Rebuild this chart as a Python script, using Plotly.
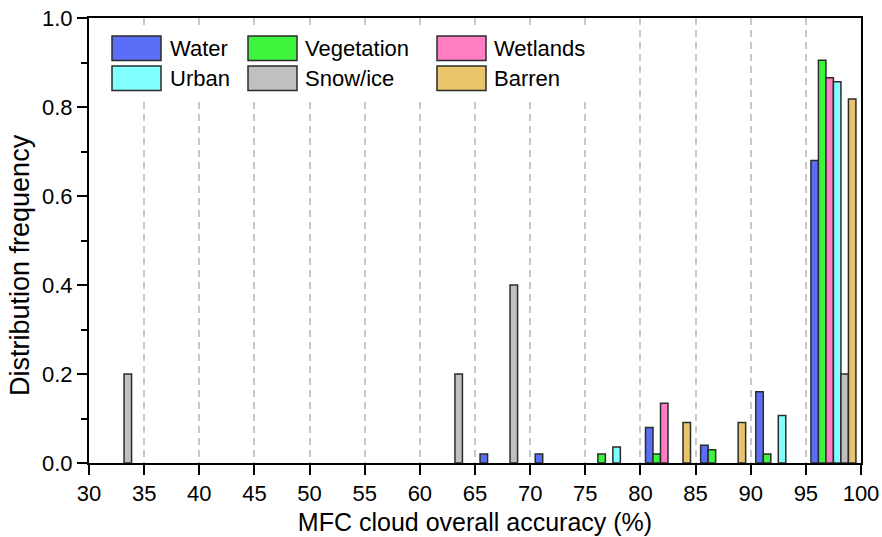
import plotly.graph_objects as go

# ---- data ----
bin_lower = [30, 35, 40, 45, 50, 55, 60, 65, 70, 75, 80, 85, 90, 95]
series_names = ["Water", "Vegetation", "Wetlands", "Urban", "Snow/ice", "Barren"]
water      = [None, None, None, None, None, None, None, 0.02, 0.02, None, 0.08, 0.04, 0.16, 0.68]
vegetation = [None, None, None, None, None, None, None, None, None, 0.02, 0.02, 0.03, 0.02, 0.905]
wetlands   = [None, None, None, None, None, None, None, None, None, None, 0.134, None, None, 0.866]
urban      = [None, None, None, None, None, None, None, None, None, 0.036, None, None, 0.107, 0.857]
snow_ice   = [0.2, None, None, None, None, None, 0.2, 0.4, None, None, None, None, None, 0.2]
barren     = [None, None, None, None, None, None, None, None, None, None, 0.091, 0.091, None, 0.818]
series_values = [water, vegetation, wetlands, urban, snow_ice, barren]
series_colors = ["#5B6EF8", "#3DF53D", "#FF7DC3", "#80FFFF", "#C0C0C0", "#E9C46A"]
x_ticks = list(range(30, 101, 5))
y_ticks = [0.0, 0.2, 0.4, 0.6, 0.8, 1.0]

FONT = "Arial, Liberation Sans, sans-serif"
EDGE = "#2b2b2b"

bin_centers = [b + 2.5 for b in bin_lower]

fig = go.Figure()
for name, vals, col in zip(series_names, series_values, series_colors):
    fig.add_trace(go.Bar(
        x=bin_centers, y=vals, name=name,
        marker=dict(color=col, line=dict(color=EDGE, width=1.5)),
        showlegend=False,
    ))

# plot area in pixels (for legend placement)
W, H = 882, 537
ML, MR, MT, MB = 89, 21, 18, 74
PW, PH = W - ML - MR, H - MT - MB

def px2x(px):
    return (px - ML) / PW

def py2y(py):
    return (H - MB - py) / PH

shapes = []
annotations = []
# legend background
shapes.append(dict(type="rect", xref="paper", yref="paper",
                   x0=px2x(100), x1=px2x(625), y0=py2y(97), y1=py2y(26),
                   fillcolor="white", line=dict(width=0), layer="above"))
col_x = [112, 248, 437]
text_x = [168, 303, 492]
row_y = [36, 66]
sw_w, sw_h = 49, 24.5
for i, (name, col) in enumerate(zip(series_names, series_colors)):
    r, c = divmod(i, 3)
    shapes.append(dict(type="rect", xref="paper", yref="paper",
                       x0=px2x(col_x[c]), x1=px2x(col_x[c] + sw_w),
                       y0=py2y(row_y[r] + sw_h), y1=py2y(row_y[r]),
                       fillcolor=col, line=dict(color=EDGE, width=1.5), layer="above"))
    annotations.append(dict(xref="paper", yref="paper", x=px2x(text_x[c]),
                            y=py2y(row_y[r] + sw_h / 2), text=name, showarrow=False,
                            xanchor="left", yanchor="middle",
                            font=dict(family=FONT, size=22, color="black")))

# y-axis title
annotations.append(dict(xref="paper", yref="paper", x=px2x(20), y=py2y(265),
                        text="Distribution frequency", showarrow=False, textangle=-90,
                        xanchor="center", yanchor="middle",
                        font=dict(family=FONT, size=27, color="black")))

fig.update_layout(
    width=W, height=H,
    margin=dict(l=ML, r=MR, t=MT, b=MB, autoexpand=False),
    paper_bgcolor="white", plot_bgcolor="white",
    barmode="group", bargap=0.184, bargroupgap=0,
    font=dict(family=FONT, size=22, color="black"),
    shapes=shapes, annotations=annotations,
)
fig.update_xaxes(
    range=[30, 100], tickmode="array", tickvals=x_ticks, ticktext=[str(t) for t in x_ticks],
    ticks="outside", ticklen=10, tickwidth=2, tickcolor="black",
    showline=True, linewidth=2, linecolor="black", mirror=True,
    showgrid=True, gridcolor="#C8C8C8", gridwidth=1.5, griddash="7px,5px",
    zeroline=False, tickfont=dict(size=22),
    title=dict(text="MFC cloud overall accuracy (%)", font=dict(size=25), standoff=8),
)
fig.update_yaxes(
    range=[0, 1], tickmode="array", tickvals=y_ticks, ticktext=[f"{t:.1f}" for t in y_ticks],
    ticks="outside", ticklen=10, tickwidth=2, tickcolor="black",
    minor=dict(dtick=0.1, ticks="outside", ticklen=6, tickwidth=2, tickcolor="black", showgrid=False),
    showline=True, linewidth=2, linecolor="black", mirror=True,
    showgrid=False, zeroline=False, tickfont=dict(size=22),
)

fig.write_html(
    "out.html",
    config={"displayModeBar": False},
    post_script="document.body.style.margin='0';document.body.style.overflow='hidden';",
)
